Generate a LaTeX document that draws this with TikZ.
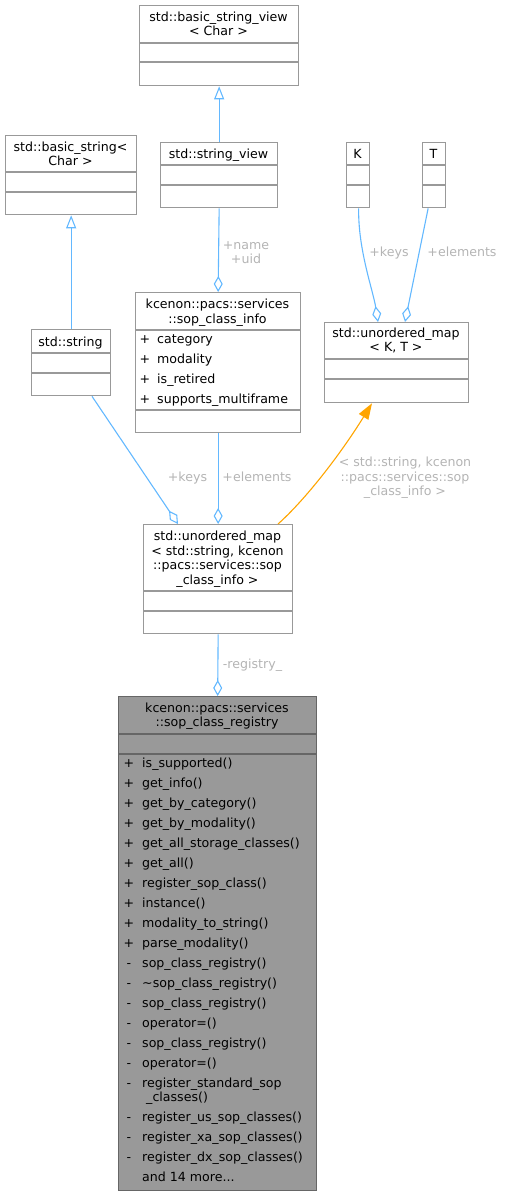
\documentclass[tikz,border=0pt]{standalone}
\usepackage{fontspec}
\setmainfont{DejaVu Sans}
\usetikzlibrary{arrows.meta,calc}
\definecolor{edgeblue}{HTML}{63B8FF}
\definecolor{boxgray}{HTML}{999999}
\definecolor{regfill}{HTML}{999999}
\definecolor{regline}{HTML}{666666}
\definecolor{lblgray}{HTML}{B4B4B4}
\definecolor{tmplorange}{HTML}{FFA500}
\begin{document}
\begin{tikzpicture}[x=1pt,y=-1pt,
  font=\fontsize{12.6}{15}\selectfont,
  cls/.style={draw=boxgray, fill=white, line width=1.3pt, inner sep=0pt, anchor=north west},
  regcls/.style={draw=regline, fill=regfill, line width=1.3pt, inner sep=0pt, anchor=north west},
  sepline/.style={draw=boxgray, line width=1.3pt},
  regsep/.style={draw=regline, line width=1.3pt},
  txt/.style={inner sep=0pt, anchor=base, text=black},
  mem/.style={inner sep=0pt, anchor=base west, text=black},
  lbl/.style={inner sep=0pt, anchor=base, text=lblgray},
  blueedge/.style={draw=edgeblue, line width=1.1pt},
  inh/.style={blueedge, -{Triangle[open, length=13pt, width=10pt, line width=1.1pt]}},
  agg/.style={blueedge, {Diamond[open, length=16pt, width=9pt, line width=1.1pt]}-},
  tmpl/.style={draw=tmplorange, line width=1.1pt, -{Triangle[length=16pt, width=11pt]}}
]
\useasboundingbox (0,0) rectangle (504,1196);

% ---------- std::basic_string_view< Char >
\node[cls, minimum width=159pt, minimum height=80pt] (bsv) at (139,5) {};
\draw[sepline] (139,43) -- (298,43);
\draw[sepline] (139,62) -- (298,62);
\node[txt] (bsvt1) at (218.5,21.5) {std::basic\_string\_view};
\node[txt] (bsvt2) at (218.5,35.5) {< Char >};

% ---------- std::basic_string< Char >
\node[cls, minimum width=131pt, minimum height=79pt] (bs) at (5,135) {};
\draw[sepline] (5,172) -- (136,172);
\draw[sepline] (5,192) -- (136,192);
\node[txt] (bst1) at (70.5,151.5) {std::basic\_string<};
\node[txt] (bst2) at (70.5,165.5) {Char >};

% ---------- std::string_view
\node[cls, minimum width=117pt, minimum height=65pt] (sv) at (160,142) {};
\draw[sepline] (160,165) -- (277,165);
\draw[sepline] (160,185) -- (277,185);
\node[txt] (svt) at (218.5,158.5) {std::string\_view};

% ---------- K
\node[cls, minimum width=23pt, minimum height=65pt] (K) at (346,142) {};
\draw[sepline] (346,165) -- (369,165);
\draw[sepline] (346,185) -- (369,185);
\node[txt] (Kt) at (357.5,158.5) {K};

% ---------- T
\node[cls, minimum width=23pt, minimum height=65pt] (T) at (422,142) {};
\draw[sepline] (422,165) -- (445,165);
\draw[sepline] (422,185) -- (445,185);
\node[txt] (Tt) at (433.5,158.5) {T};

% ---------- std::string
\node[cls, minimum width=79pt, minimum height=66pt] (str) at (31,329) {};
\draw[sepline] (31,353) -- (110,353);
\draw[sepline] (31,373) -- (110,373);
\node[txt] (strt) at (70.5,346.5) {std::string};

% ---------- sop_class_info
\node[cls, minimum width=165pt, minimum height=140pt] (info) at (135,292) {};
\draw[sepline] (135,330) -- (300,330);
\draw[sepline] (135,410) -- (300,410);
\node[txt] (infot1) at (217.5,308.5) {kcenon::pacs::services};
\node[txt] (infot2) at (217.5,323.5) {::sop\_class\_info};
\foreach \t [count=\i] in {{category},{modality},{is\_retired},{supports\_multiframe}} {
  \node[txt] (ip\i) at (145,323.5+20*\i) {+};
  \node[mem] (ia\i) at (157,323.5+20*\i) {\t};
}

% ---------- std::unordered_map< K, T >
\node[cls, minimum width=144pt, minimum height=80pt] (ukt) at (324,322) {};
\draw[sepline] (324,359) -- (468,359);
\draw[sepline] (324,379) -- (468,379);
\node[txt] (uktt1) at (396,337.5) {std::unordered\_map};
\node[txt] (uktt2) at (396,351.5) {< K, T >};

% ---------- std::unordered_map< std::string, ... >
\node[cls, minimum width=149pt, minimum height=109pt] (umap) at (143,524) {};
\draw[sepline] (143,591) -- (292,591);
\draw[sepline] (143,611) -- (292,611);
\node[txt] (umapt1) at (217.5,540.5) {std::unordered\_map};
\node[txt] (umapt2) at (217.5,555) {< std::string, kcenon};
\node[txt] (umapt3) at (217.5,569.5) {::pacs::services::sop};
\node[txt] (umapt4) at (217.5,584) {\_class\_info >};

% ---------- sop_class_registry
\node[regcls, minimum width=198pt, minimum height=494pt] (reg) at (118,696) {};
\draw[regsep] (118,734) -- (316,734);
\draw[regsep] (118,754) -- (316,754);
\node[txt] (regt1) at (217,712.5) {kcenon::pacs::services};
\node[txt] (regt2) at (217,726.5) {::sop\_class\_registry};
\foreach \t [count=\i] in {{is\_supported()},{get\_info()},{get\_by\_category()},{get\_by\_modality()},{get\_all\_storage\_classes()},{get\_all()},{register\_sop\_class()},{instance()},{modality\_to\_string()},{parse\_modality()}} {
  \node[txt] (rp\i) at (129,747.5+20*\i) {+};
  \node[mem] (rm\i) at (142,747.5+20*\i) {\t};
}
\foreach \t [count=\i] in {{sop\_class\_registry()},{\textasciitilde sop\_class\_registry()},{sop\_class\_registry()},{operator=()},{sop\_class\_registry()},{operator=()}} {
  \node[txt] (rq\i) at (129,947.5+20*\i) {-};
  \node[mem] (rn\i) at (142,947.5+20*\i) {\t};
}
\node[txt] (rq7) at (129,1087.5) {-};
\node[mem] (rn7) at (142,1087.5) {register\_standard\_sop};
\node[mem] (rn7b) at (146,1101.5) {\_classes()};
\node[txt] (rq8) at (129,1121.5) {-};
\node[mem] (rn8) at (142,1121.5) {register\_us\_sop\_classes()};
\node[txt] (rq9) at (129,1141.5) {-};
\node[mem] (rn9) at (142,1141.5) {register\_xa\_sop\_classes()};
\node[txt] (rq10) at (129,1161.5) {-};
\node[mem] (rn10) at (142,1161.5) {register\_dx\_sop\_classes()};
\node[mem] (rmore) at (142,1181.5) {and 14 more...};

% ---------- connectors
\draw[inh] (sv.north) -- (bsv.south);
\draw[inh] (str.north) -- (bs.south);
\draw[agg] (info.north) -- (sv.south);
\node[lbl] (lname) at (246,249.5) {+name};
\node[lbl] (luid) at (246,263.5) {+uid};

\draw[agg] ($(ukt.north west)+(54,0)$) .. controls (373,290) and (358,250) .. ($(K.south)+(0.5,0)$);
\node[lbl] (lkeys1) at (389,256.5) {+keys};
\draw[agg] ($(ukt.north west)+(81,0)$) -- ($(T.south)+(-6,0)$);
\node[lbl] (lelem1) at (462,256.5) {+elements};

\draw[agg] ($(umap.north west)+(35,0)$) -- ($(str.south west)+(61,0)$);
\node[lbl] (lkeys2) at (187.5,481.5) {+keys};
\draw[agg] (info.south |- umap.north) -- (info.south);
\node[lbl] (lelem2) at (257,481.5) {+elements};

\draw[tmpl] ($(umap.north west)+(135,0)$) .. controls (305,500) and (340,455) .. ($(ukt.south west)+(48,0)$);
\node[lbl] (ltm1) at (405,466.5) {< std::string, kcenon};
\node[lbl] (ltm2) at (405,481) {::pacs::services::sop};
\node[lbl] (ltm3) at (405,495.5) {\_class\_info >};

\draw[agg] (reg.north) -- (umap.south);
\node[lbl] (lreg) at (252.5,668.5) {-registry\_};
\end{tikzpicture}
\end{document}
